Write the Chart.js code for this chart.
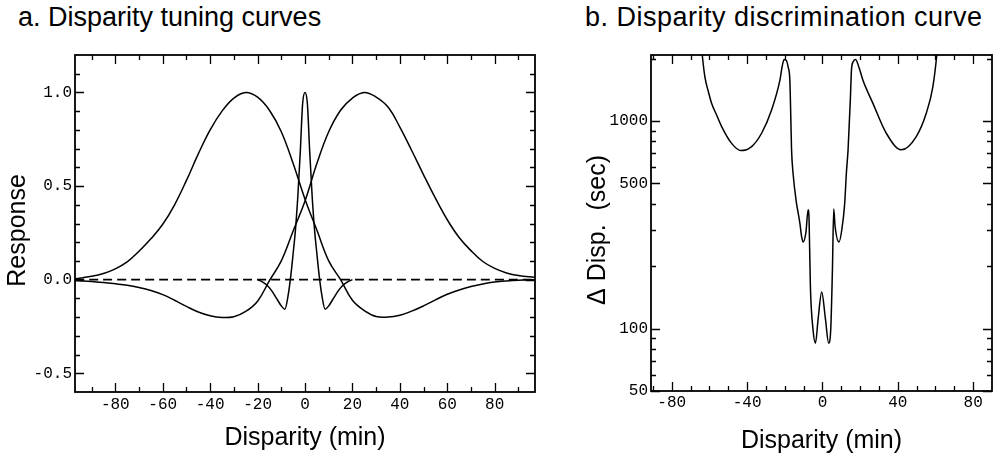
<!DOCTYPE html>
<html lang="en">
<head>
<meta charset="UTF-8">
<title>Disparity tuning and discrimination</title>
<script src="https://cdn.jsdelivr.net/npm/chart.js"></script>
<style>
  body { margin: 0; background: #fff; width: 1000px; height: 453px; position: relative; overflow: hidden;
         font-family: 'Liberation Sans', Arial, sans-serif; }
  .panel-title { position: absolute; top: 2px; font-size: 27px; color: #000; white-space: nowrap; }
  #wrapA { position: absolute; left: 0; top: 0; width: 560px; height: 453px; }
  #wrapB { position: absolute; left: 560px; top: 0; width: 440px; height: 453px; }
</style>
</head>
<body>
<div class="panel-title" style="left:18px">a. Disparity tuning curves</div>
<div class="panel-title" style="left:585px; letter-spacing:0.5px">b. Disparity discrimination curve</div>
<div id="wrapA"><canvas id="tuning" width="560" height="453"></canvas></div>
<div id="wrapB"><canvas id="discrim" width="440" height="453"></canvas></div>

<script>
// --- a. tuning curves (disparity in min, response) ---
const dispAB = [-97,-90,-85,-80,-75,-70,-65,-60,-55,-50,-45,-40,-35,-30,-25,-20,-15,-10,-5,0,
                5,10,15,20,25,30,35,40,45,50,55,60,65,70,75,80,85,90,97];
const farResp = [0.005,0.018,0.033,0.058,0.095,0.152,0.218,0.296,0.40,0.53,0.672,0.80,0.90,0.97,1.0,0.975,0.905,0.79,0.62,0.43,
                 0.265,0.10,0.0,-0.11,-0.165,-0.197,-0.20,-0.19,-0.168,-0.14,-0.108,-0.078,-0.055,-0.037,-0.023,-0.013,-0.007,-0.003,0.0];
const nearResp = [-0.004,-0.01,-0.015,-0.022,-0.03,-0.042,-0.058,-0.08,-0.11,-0.143,-0.173,-0.193,-0.202,-0.198,-0.17,-0.115,-0.005,0.10,0.26,0.42,
                  0.62,0.79,0.905,0.97,1.0,0.975,0.922,0.815,0.69,0.56,0.435,0.32,0.225,0.155,0.097,0.06,0.036,0.022,0.012];
const dispTuned = [-20,-18,-16,-14,-12,-10,-8.5,-7,-6,-5,-4,-3,-2,-1,0,1,2,3,4,5,6,7,8.5,10,12,14,16,18,20];
const tunedResp = [0,-0.012,-0.03,-0.06,-0.10,-0.14,-0.158,-0.075,0.02,0.14,0.27,0.45,0.68,0.94,1.0,0.94,0.68,0.45,0.27,0.14,0.02,-0.075,-0.158,-0.14,-0.10,-0.06,-0.03,-0.012,0];
const zeroX = [-97, 97];
const zeroY = [0, 0];

const tuneXLabels = [-80,-60,-40,-20,0,20,40,60,80];
const tuneXMinor = [-90,-70,-50,-30,-10,10,30,50,70,90];
const tuneYLabels = [-0.5,0,0.5,1.0];
const tuneYMinor = [-0.4,-0.3,-0.2,-0.1,0.1,0.2,0.3,0.4,0.6,0.7,0.8,0.9,1.1];

// --- b. discrimination curve (disparity in min, threshold in sec) ---
const dispB = [-64.8,-63.8,-62.4,-60.5,-58.8,-56,-53.5,-48.2,-43.3,-37.6,-32.3,-27,-22.6,-21.3,-20.3,-19.2,-18.2,-17.3,-16.8,-16.4,-15.6,
               -13.8,-12.9,-12,-11.1,-10.3,-8.8,-7.6,-7.1,-6.4,-5.0,-3.7,-2.3,-0.4,1.6,3.3,4.4,5.3,6.0,6.7,8.8,10.3,11.8,12.7,13.6,14.8,15.4,
               16.3,17.6,19.5,21.5,26.8,33.9,41.9,49.8,55.1,58.6,60.7,61.6];
const threshB = [2600,2080,1630,1380,1215,1060,940,780,720,753,873,1130,1570,1850,1980,1960,1820,1570,1050,730,560,
                 403,361,323,279,261,289,374,335,160,99,85,111,150,111,85,99,192,377,311,261,300,400,560,726,1261,1758,
                 1930,1980,1800,1573,1216,873,726,841,1089,1461,2080,2600];

const discXLabels = [-80,-40,0,40,80];
const discXMinor = [-90,-70,-60,-50,-30,-20,-10,10,20,30,50,60,70];
const discYLabels = [50,100,500,1000];
const discYMinor = [60,70,80,90,200,300,400,600,700,800,900,2000];

const pts = (xs, ys) => xs.map((x, i) => ({x: x, y: ys[i]}));

// inward tick marks on all four sides plus the frame
const innerTicks = {
  id: 'innerTicks',
  afterDatasetsDraw(chart, args, opts) {
    const {ctx, chartArea: a, scales} = chart;
    ctx.save();
    ctx.strokeStyle = '#000';
    ctx.lineWidth = 1.3;
    ctx.beginPath();
    const xt = (vals, len) => vals.forEach(v => {
      const p = Math.round(scales.x.getPixelForValue(v)) + 0.5;
      ctx.moveTo(p, a.bottom); ctx.lineTo(p, a.bottom - len);
      ctx.moveTo(p, a.top); ctx.lineTo(p, a.top + len);
    });
    const yt = (vals, len) => vals.forEach(v => {
      const p = Math.round(scales.y.getPixelForValue(v)) + 0.5;
      ctx.moveTo(a.left, p); ctx.lineTo(a.left + len, p);
      ctx.moveTo(a.right, p); ctx.lineTo(a.right - len, p);
    });
    xt(opts.xMajor, 9); xt(opts.xMinor, 5);
    yt(opts.yMajor, 9); yt(opts.yMinor, 5);
    ctx.stroke();
    ctx.lineWidth = 1.8;
    ctx.strokeRect(a.left, a.top, a.width, a.height);
    ctx.restore();
  }
};

const tickFont = {family: "'Liberation Mono', 'DejaVu Sans Mono', monospace", size: 16};
const titleFont = {family: "'Liberation Sans', Arial, sans-serif", size: 25};
const lineStyle = {borderColor: '#000', borderWidth: 1.5, pointRadius: 0, tension: 0.4, fill: false};
const sharpStyle = {...lineStyle, tension: 0, cubicInterpolationMode: 'monotone'};
const noGrid = {display: false, drawTicks: false};

new Chart(document.getElementById('tuning'), {
  type: 'line',
  data: {
    datasets: [
      {...lineStyle, data: pts(dispAB, farResp)},
      {...lineStyle, data: pts(dispAB, nearResp)},
      {...sharpStyle, data: pts(dispTuned, tunedResp)},
      {...lineStyle, borderWidth: 1.8, borderDash: [9, 5], data: pts(zeroX, zeroY)}
    ]
  },
  options: {
    responsive: false, animation: false,
    layout: {padding: {top: 55, right: 25, left: 0, bottom: 0}},
    plugins: {legend: {display: false}, tooltip: {enabled: false},
      innerTicks: {xMajor: tuneXLabels, xMinor: tuneXMinor, yMajor: tuneYLabels, yMinor: tuneYMinor}},
    scales: {
      x: {
        type: 'linear', min: -97, max: 97,
        afterBuildTicks: s => { s.ticks = tuneXLabels.map(v => ({value: v})); },
        afterFit: s => { s.height = 61; },
        grid: noGrid, border: {display: false},
        ticks: {font: tickFont, color: '#000', padding: 3, maxRotation: 0},
        title: {display: true, text: 'Disparity (min)', font: titleFont, color: '#000', padding: {top: 0, bottom: 0}}
      },
      y: {
        type: 'linear', min: -0.6, max: 1.2,
        afterBuildTicks: s => { s.ticks = tuneYLabels.map(v => ({value: v})); },
        afterFit: s => { s.width = 75; },
        grid: noGrid, border: {display: false},
        ticks: {font: tickFont, color: '#000', padding: 3, callback: v => v.toFixed(1)},
        title: {display: true, text: 'Response  ', font: titleFont, color: '#000', padding: {top: 3, bottom: 0}}
      }
    }
  },
  plugins: [innerTicks]
});

new Chart(document.getElementById('discrim'), {
  type: 'line',
  data: {
    datasets: [
      {...sharpStyle, data: pts(dispB, threshB)}
    ]
  },
  options: {
    responsive: false, animation: false,
    layout: {padding: {top: 55, right: 8, left: 0, bottom: 0}},
    plugins: {legend: {display: false}, tooltip: {enabled: false},
      innerTicks: {xMajor: discXLabels, xMinor: discXMinor, yMajor: discYLabels, yMinor: discYMinor}},
    scales: {
      x: {
        type: 'linear', min: -91, max: 90,
        afterBuildTicks: s => { s.ticks = discXLabels.map(v => ({value: v})); },
        afterFit: s => { s.height = 62; },
        grid: noGrid, border: {display: false},
        ticks: {font: tickFont, color: '#000', padding: 2, maxRotation: 0},
        title: {display: true, text: 'Disparity (min)', font: titleFont, color: '#000', padding: {top: 0, bottom: -3}}
      },
      y: {
        type: 'logarithmic', min: 50, max: 2080,
        afterBuildTicks: s => { s.ticks = discYLabels.map(v => ({value: v})); },
        afterFit: s => { s.width = 91; },
        grid: noGrid, border: {display: false},
        ticks: {font: tickFont, color: '#000', padding: 3, callback: v => String(v)},
        title: {display: true, text: '\u0394 Disp.  (sec)  ', font: titleFont, color: '#000', padding: {top: 23, bottom: 0}}
      }
    }
  },
  plugins: [innerTicks]
});
</script>
</body>
</html>
